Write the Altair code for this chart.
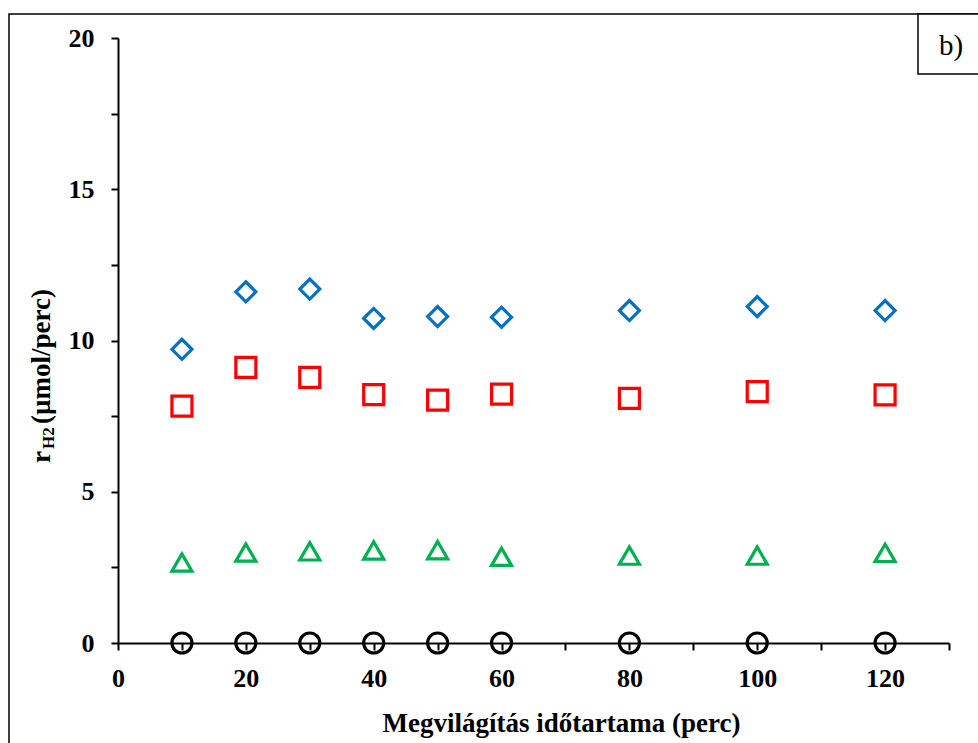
import altair as alt
import pandas as pd

# ---- data ----
ido_perc = [10, 20, 30, 40, 50, 60, 80, 100, 120]
kek_rombusz = [9.71, 11.61, 11.70, 10.73, 10.79, 10.77, 10.99, 11.12, 10.99]
piros_negyzet = [7.83, 9.11, 8.78, 8.21, 8.03, 8.23, 8.09, 8.31, 8.20]
zold_haromszog = [2.66, 2.99, 3.03, 3.06, 3.07, 2.85, 2.89, 2.89, 2.98]
fekete_kor = [0, 0, 0, 0, 0, 0, 0, 0, 0]

series_names = ["A", "B", "C", "D"]
series_values = [kek_rombusz, piros_negyzet, zold_haromszog, fekete_kor]
series_colors = ["#0070C0", "#FF0000", "#00B050", "#000000"]
series_shapes = ["diamond", "square", "triangle-up", "circle"]
series_sizes = [400, 400, 430, 360]

x_ticks = list(range(0, 131, 10))
y_ticks = [i * 2.5 for i in range(9)]

rows = []
for name, vals in zip(series_names, series_values):
    for xv, yv in zip(ido_perc, vals):
        rows.append({"x": xv, "y": yv, "s": name})
df = pd.DataFrame(rows)

FONT = "Liberation Serif"
W, H = 831, 605

points = alt.Chart(df).mark_point(filled=False, strokeWidth=3.2, opacity=1).encode(
    x=alt.X("x:Q", scale=alt.Scale(domain=[0, 130], nice=False, zero=False),
            axis=alt.Axis(values=x_ticks,
                          labelExpr="datum.value % 20 == 0 ? datum.label : ''",
                          title="Megvilágítás időtartama (perc)",
                          titleX=443, titleY=88, titleBaseline="alphabetic",
                          titleAlign="center", titleAngle=0,
                          labelPadding=15)),
    y=alt.Y("y:Q", scale=alt.Scale(domain=[0, 20], nice=False),
            axis=alt.Axis(values=y_ticks,
                          labelExpr="datum.value % 5 == 0 ? datum.label : ''",
                          title=None, labelPadding=17)),
    color=alt.Color("s:N", scale=alt.Scale(domain=series_names, range=series_colors), legend=None),
    shape=alt.Shape("s:N", scale=alt.Scale(domain=series_names, range=series_shapes), legend=None),
    size=alt.Size("s:N", scale=alt.Scale(domain=series_names, range=series_sizes), legend=None),
)

one = pd.DataFrame({"k": [0]})
base = alt.Chart(one)

frame = base.mark_rect(fillOpacity=0, stroke="#000000", strokeWidth=1.5).encode(
    x=alt.value(-109), x2=alt.value(880), y=alt.value(-24), y2=alt.value(720))
label_box = base.mark_rect(fill="white", stroke="#000000", strokeWidth=1.5).encode(
    x=alt.value(800), x2=alt.value(880), y=alt.value(-24), y2=alt.value(36))
label_txt = base.mark_text(font=FONT, fontSize=29, align="center", baseline="alphabetic",
                           color="black").encode(
    x=alt.value(833), y=alt.value(17), text=alt.value("b)"))

yt_r = base.mark_text(font=FONT, fontSize=27, fontWeight="bold", angle=270, align="left",
                      baseline="alphabetic", color="black").encode(
    x=alt.value(-68), y=alt.value(425), text=alt.value("r"))
yt_sub = base.mark_text(font=FONT, fontSize=17, fontWeight="bold", angle=270, align="left",
                        baseline="alphabetic", color="black").encode(
    x=alt.value(-64), y=alt.value(411), text=alt.value("H2"))
yt_rest = base.mark_text(font=FONT, fontSize=27, fontWeight="bold", angle=270, align="left",
                         baseline="alphabetic", color="black").encode(
    x=alt.value(-68), y=alt.value(386), text=alt.value("(µmol/perc)"))

chart = alt.layer(frame, label_box, label_txt, yt_r, yt_sub, yt_rest, points).properties(
    width=W, height=H,
    padding={"left": 118, "top": 38, "right": 29, "bottom": 100},
    autosize=alt.AutoSizeParams(type="none"),
    background="white",
).configure_view(stroke=None).configure_axis(
    grid=False,
    domainColor="black", domainWidth=2,
    tickColor="black", tickWidth=2, tickSize=7,
    labelFont=FONT, labelFontSize=26, labelFontWeight="bold", labelColor="black",
    labelFlush=False, labelOverlap=False, labelBound=False,
    titleFont=FONT, titleFontSize=27, titleFontWeight="bold", titleColor="black",
)

chart.save("out.html", embed_options={"renderer": "svg", "actions": False})
